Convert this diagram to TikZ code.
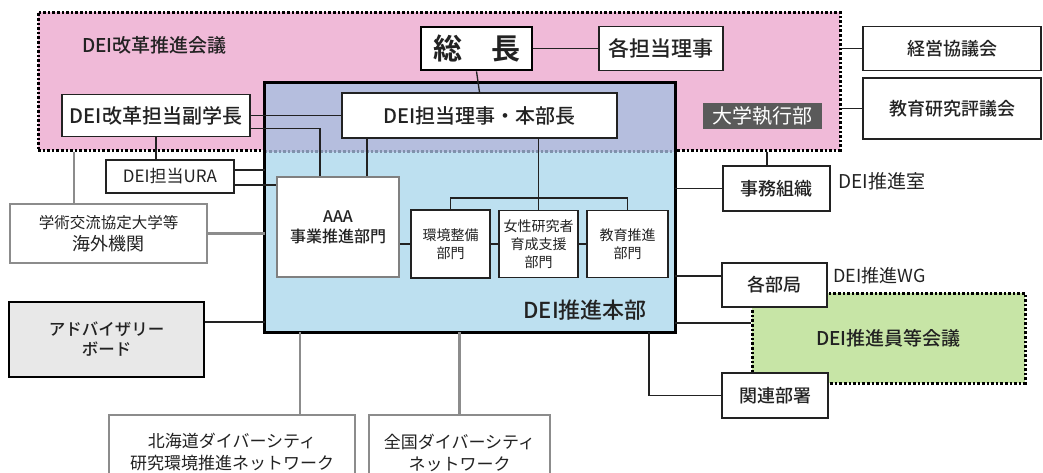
\documentclass[tikz,border=0pt]{standalone}
\usepackage{fontspec}
\setmainfont{Noto Sans CJK JP}[BoldFont={Noto Sans CJK JP Medium}]
\newfontfamily\heavyfont{Noto Sans CJK JP Bold}
\usepackage{tikz}
\definecolor{kaigipink}{RGB}{240,186,216}
\definecolor{honbublue}{RGB}{189,224,240}
\definecolor{overlapblue}{RGB}{181,190,222}
\definecolor{seamgray}{RGB}{128,146,172}
\definecolor{wggreen}{RGB}{199,229,166}
\definecolor{boxgray}{RGB}{232,232,232}
\definecolor{linegray}{RGB}{140,140,140}
\definecolor{execgray}{RGB}{90,90,90}
\definecolor{textdark}{RGB}{34,34,34}
\newcommand{\fsz}[2]{\fontsize{#1}{#2}\selectfont}

\begin{document}
\begin{tikzpicture}[x=1pt, y=-1pt]
    % Define styles
    \tikzstyle{area} = [rectangle, inner sep=0pt, draw=black, line width=3pt, dash pattern=on 2.6pt off 2pt, text=textdark]
    \tikzstyle{unit} = [rectangle, inner sep=0pt, draw=textdark, line width=1.6pt, fill=white, text=textdark, align=center, font=\fsz{18}{22}\bfseries]
    \tikzstyle{dept} = [unit, font=\fsz{14}{18}]
    \tikzstyle{extbox} = [unit, draw=linegray, line width=2.6pt, font=\fsz{17}{22}]
    \tikzstyle{tag} = [inner sep=0pt, text=textdark, font=\fsz{19}{22}]
    \tikzstyle{link} = [draw=textdark, line width=1.3pt]
    \tikzstyle{graylink} = [draw=linegray, line width=2.2pt]

    \useasboundingbox (0,0) rectangle (1043,472);
    \clip (0,0) rectangle (1043,472);

    % DEI reform council area
    \node [area, fill=kaigipink, minimum width=802pt, minimum height=138pt] (kaigi) at (439,81) {};
    \node [tag, anchor=west, font=\fsz{19}{22}\bfseries] (kaigi_title) at (82,45) {DEI改革推進会議};

    % DEI headquarters area
    \node [fill=honbublue, inner sep=0pt, minimum width=410pt, minimum height=249pt] (honbu) at (470,207.5) {};
    \fill [overlapblue] (honbu.north west) rectangle (honbu.east |- kaigi.south);
    \draw [line width=3pt, dash pattern=on 2.6pt off 2pt, seamgray] (honbu.west |- kaigi.south) -- (honbu.east |- kaigi.south);
    \draw [line width=3pt, black] (honbu.north west) rectangle (honbu.south east);
    \node [tag, anchor=east, font=\fsz{22}{26}\bfseries] (honbu_title) at (647,310) {DEI推進本部};

    % Executives
    \node [unit, minimum width=111pt, minimum height=43pt, line width=2.8pt, draw=black, font=\fsz{29}{32}\heavyfont] (socho) at (476.5,48.5) {総　長};
    \node [unit, minimum width=124pt, minimum height=44pt, font=\fsz{21}{24}\bfseries] (kaku_riji) at (661,48.5) {各担当理事};
    \node [unit, minimum width=275pt, minimum height=45pt, font=\fsz{20}{24}\bfseries] (tanto_riji) at (479.5,115.5) {DEI担当理事・本部長};
    \node [unit, minimum width=188pt, minimum height=42pt, font=\fsz{20}{24}\bfseries] (fukugakucho) at (156,115.5) {DEI改革担当副学長};
    \node [fill=execgray, text=white, inner sep=0pt, minimum width=119pt, minimum height=26pt, font=\fsz{20}{24}] (shikko) at (762.5,116) {大学執行部};
    \node [unit, minimum width=128pt, minimum height=33pt, font=\fsz{17}{20}] (ura) at (170,176.5) {DEI担当URA};

    % Departments
    \node [unit, draw=gray, line width=2.4pt, minimum width=122pt, minimum height=100pt, font=\fsz{16}{20}\bfseries] (aaa) at (338,227) {AAA\\事業推進部門};
    \node [dept, minimum width=79pt, minimum height=68pt] (kankyo) at (450.5,244) {環境整備\\部門};
    \node [dept, minimum width=79pt, minimum height=67pt] (josei) at (538.5,244) {女性研究者\\育成支援\\部門};
    \node [dept, minimum width=81pt, minimum height=67pt] (kyoiku) at (627.5,244) {教育推進\\部門};

    % Councils on the right
    \node [unit, minimum width=178pt, minimum height=44pt] (keiei) at (952,48.5) {経営協議会};
    \node [unit, minimum width=178pt, minimum height=61pt] (kyoken) at (952,108.5) {教育研究評議会};

    % Administration and faculties
    \node [unit, minimum width=107pt, minimum height=45pt] (jimu) at (776.5,188.5) {事務組織};
    \node [tag, anchor=west] (suishinshitsu) at (838,181) {DEI推進室};
    \node [area, fill=wggreen, minimum width=273pt, minimum height=90pt, font=\fsz{19}{22}\bfseries] (wg_kaigi) at (888.5,338) {DEI推進員等会議};
    \node [unit, minimum width=105pt, minimum height=44pt] (kakubukyoku) at (774.5,285) {各部局};
    \node [tag, anchor=west, font=\fsz{18}{22}] (wg_title) at (833,276) {DEI推進WG};
    \node [unit, minimum width=106pt, minimum height=45pt] (kanren) at (775,395.5) {関連部署};

    % Outside bodies
    \node [extbox, minimum width=197pt, minimum height=59pt] (gakujutsu) at (108.5,233.5) {\fsz{15.5}{22}学術交流協定大学等\\\fsz{18}{22}海外機関};
    \node [unit, fill=boxgray, draw=black, line width=2.8pt, minimum width=195pt, minimum height=75pt, font=\fsz{16.5}{20}\bfseries] (advisory) at (106.5,339.5) {アドバイザリー\\ボード};
    \node [extbox, minimum width=246pt, minimum height=75pt] (hokkaido) at (232,452.5) {北海道ダイバーシティ\\研究環境推進ネットワーク};
    \node [extbox, minimum width=181pt, minimum height=75pt] (zenkoku) at (459.5,452.5) {全国ダイバーシティ\\ネットワーク};

    % Helper points
    \coordinate (ura_a) at ([yshift=6.5pt]ura.east);
    \coordinate (ura_b) at ([yshift=-8.5pt]ura.east);
    \coordinate (fuku_b) at ([yshift=-13pt]fukugakucho.east);
    \coordinate (aaa_l) at ([xshift=-18pt]aaa.north);
    \coordinate (aaa_r) at ([xshift=29pt]aaa.north);
    \coordinate (bus) at (538.5,198);
    \coordinate (gaku_top) at ([xshift=-34.5pt]gakujutsu.north);
    \coordinate (adv_r) at ([yshift=17.5pt]advisory.east);
    \coordinate (hk_top) at ([xshift=68pt]hokkaido.north);
    \coordinate (jimu_top) at ([xshift=-9.5pt]jimu.north);
    \coordinate (kbk_l) at ([yshift=9pt]kakubukyoku.west);
    \coordinate (wg_l) at ([yshift=15pt]wg_kaigi.west);
    \coordinate (kanren_top) at ([xshift=179pt]honbu.south);

    % Connectors
    \draw [link] (socho) -- (kaku_riji);
    \draw [link] (socho.south) -- (tanto_riji.north);
    \draw [link] (fukugakucho) -- (tanto_riji);
    \draw [link] (fuku_b) -| (aaa_l);
    \draw [link] (aaa_r) -- (aaa_r |- tanto_riji.south);
    \draw [link] (fukugakucho.south) -- (fukugakucho.south |- ura.north);
    \draw [link] (ura_a) -- (ura_a -| honbu.west);
    \draw [link] (ura_b) -- (ura_b -| aaa.west);
    \draw [link] (josei.north |- tanto_riji.south) -- (josei.north);
    \draw [link] (kankyo.north) |- (bus) -| (kyoiku.north);
    \draw [link] (aaa.east |- kankyo.west) -- (kankyo.west);
    \draw [link] (kankyo) -- (josei);
    \draw [link] (josei) -- (kyoiku);
    \draw [link] (keiei.west -| kaigi.east) -- (keiei.west);
    \draw [link] (kyoken.west -| kaigi.east) -- (kyoken.west);
    \draw [link] (jimu_top |- kaigi.south) -- (jimu_top);
    \draw [link] (jimu.west -| honbu.east) -- (jimu.west);
    \draw [link] (kbk_l -| honbu.east) -- (kbk_l);
    \draw [link] (wg_l -| honbu.east) -- (wg_l);
    \draw [link] (kanren_top) |- (kanren.west);
    \draw [link] (adv_r) -- (adv_r -| honbu.west);
    \draw [graylink] (gakujutsu.east) -- (gakujutsu.east -| honbu.west);
    \draw [graylink] (gaku_top |- kaigi.south) -- (gaku_top);
    \draw [graylink] (hk_top |- honbu.south) -- (hk_top);
    \draw [graylink] (zenkoku.north |- honbu.south) -- (zenkoku.north);
\end{tikzpicture}
\end{document}
